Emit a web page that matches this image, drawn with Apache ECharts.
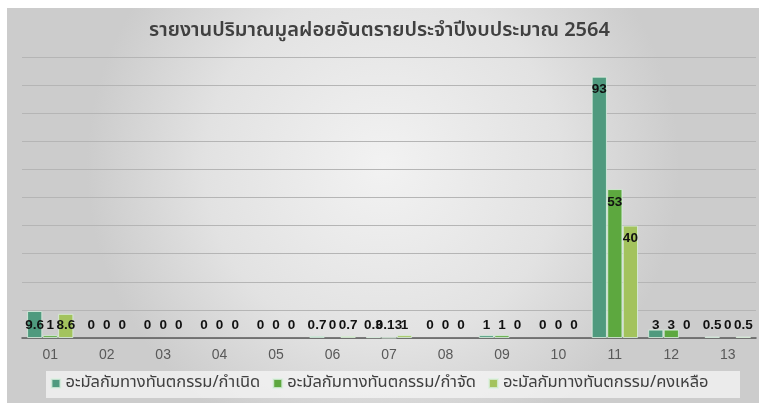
<!DOCTYPE html>
<html><head><meta charset="utf-8">
<script src="https://cdn.jsdelivr.net/npm/echarts@6/dist/echarts.min.js"></script>
<style>html,body{margin:0;padding:0;background:#fff}#c{width:759px;height:403px}</style>
</head><body><div id="c"></div>
<script>
var titleText = 'รายงานปริมาณมูลฝอยอันตรายประจำปีงบประมาณ 2564';
var categories = ['01','02','03','04','05','06','07','08','09','10','11','12','13'];
var seriesNames = ['อะมัลกัมทางทันตกรรม/กำเนิด','อะมัลกัมทางทันตกรรม/กำจัด','อะมัลกัมทางทันตกรรม/คงเหลือ'];
var generated = [9.6, 0, 0, 0, 0, 0.7, 0.3, 0, 1, 0, 93, 3, 0.5];
var disposed  = [1,   0, 0, 0, 0, 0,   0.13, 0, 1, 0, 53, 3, 0];
var remaining = [8.6, 0, 0, 0, 0, 0.7, 1,   0, 0, 0, 40, 0, 0.5];
var colors = ['#4f9a7e', '#5da83f', '#a3c35d'];
var yTicks = {min: 0, max: 100, interval: 10};

var font = '"Noto Sans Thai","Noto Sans","Liberation Sans",sans-serif';
function mk(name, vals, color) {
  return {
    name: name, type: 'bar', barGap: '2%', barCategoryGap: '18%',
    itemStyle: {color: color, borderColor: 'rgba(220,240,225,0.8)', borderWidth: 1},
    data: vals.map(function(v){
      return {value: v,
        itemStyle: v === 0 ? {borderWidth: 0} : {},
        label: {position: v < 10 ? 'insideBottom' : 'insideTop', distance: 6}};
    }),
    label: {show: true, color: '#111', fontWeight: 'bold', fontSize: 13.5, fontFamily: '"Liberation Sans",Arial,sans-serif'}
  };
}
var chart = echarts.init(document.getElementById('c'));
chart.setOption({
  backgroundColor: '#ffffff',
  animation: false,
  graphic: [{type: 'rect', shape: {x: 7, y: 8, width: 752, height: 395}, z: -10, silent: true,
    style: {fill: new echarts.graphic.RadialGradient(0.5, 0.4, 0.75, [
      {offset: 0, color: '#f2f2f2'}, {offset: 0.6, color: '#e2e2e2'}, {offset: 1, color: '#cccccc'}])}},
    {type: 'rect', shape: {x: 46, y: 371, width: 694, height: 27}, z: -5, silent: true,
      style: {fill: 'rgba(245,245,245,0.75)'}}],
  title: {text: titleText, left: 'center', top: 17,
    textStyle: {fontSize: 20, fontWeight: 600, color: '#404040', fontFamily: font}},
  legend: {data: seriesNames, bottom: 6, left: 'center', itemWidth: 9, itemHeight: 9, itemGap: 12,
    icon: 'rect', textStyle: {fontSize: 16.5, color: '#404040', fontFamily: font}},
  grid: {left: 22, right: 3, top: 57, bottom: 65, containLabel: false},
  xAxis: {type: 'category', data: categories,
    axisLine: {lineStyle: {color: '#595959', width: 1.5}}, axisTick: {show: false},
    axisLabel: {color: '#595959', fontSize: 14, margin: 10, fontFamily: '"Liberation Sans",Arial,sans-serif'}},
  yAxis: {type: 'value', min: yTicks.min, max: yTicks.max, interval: yTicks.interval,
    axisLabel: {show: false}, axisLine: {show: false}, axisTick: {show: false},
    splitLine: {lineStyle: {color: '#b5b5b5', width: 1}}},
  series: [mk(seriesNames[0], generated, colors[0]), mk(seriesNames[1], disposed, colors[1]), mk(seriesNames[2], remaining, colors[2])]
});
</script></body></html>
